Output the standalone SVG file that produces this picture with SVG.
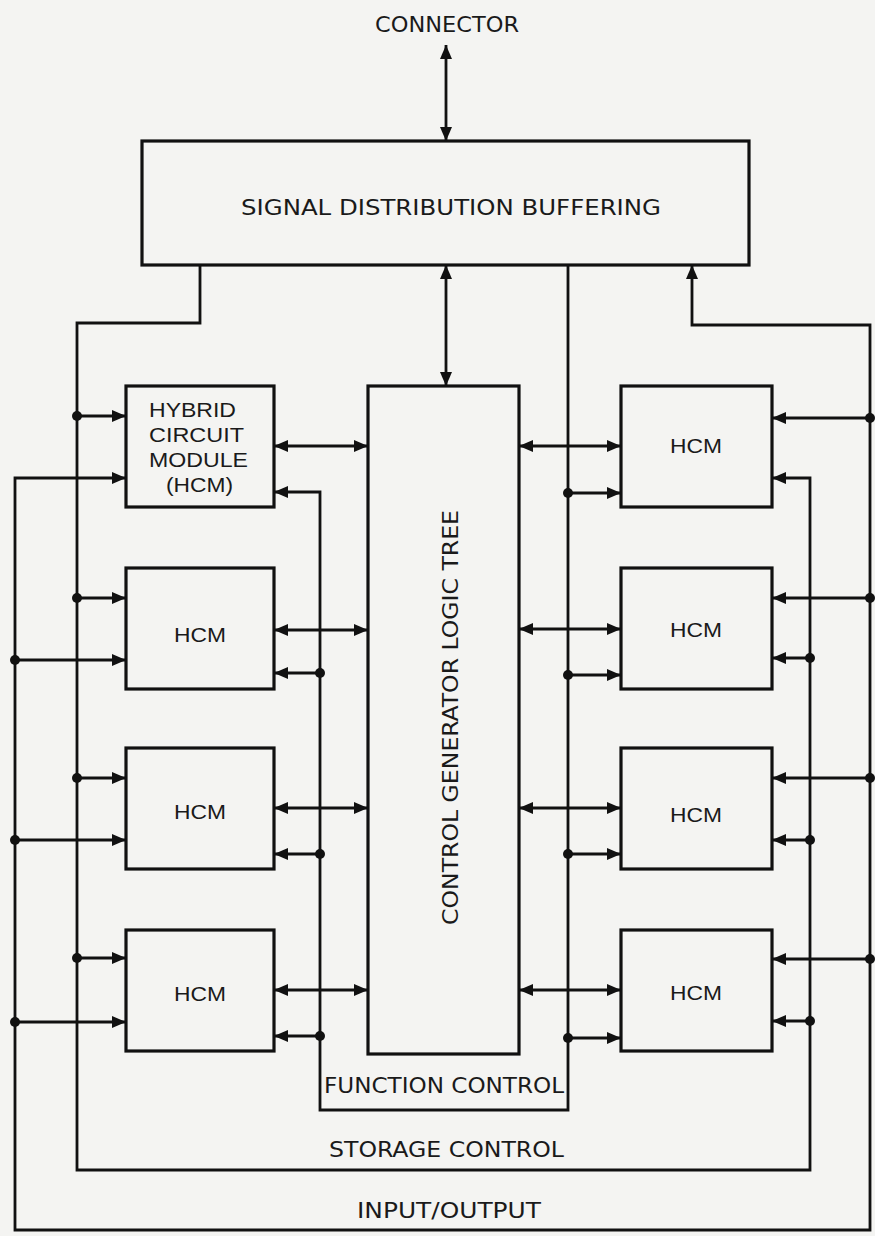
<svg xmlns="http://www.w3.org/2000/svg" width="875" height="1236" viewBox="0 0 875 1236">
<style>
.box{fill:none;stroke:#111;stroke-width:3.2}
.ln{fill:none;stroke:#111;stroke-width:2.8}
.ar{marker-end:url(#ah)}
.bi{marker-start:url(#ah);marker-end:url(#ah)}
.t{font-family:"Liberation Sans Narrow","DejaVu Sans Condensed","Liberation Sans",sans-serif;fill:#1a1a1a;font-size:22px}
.h{font-family:"Liberation Sans","DejaVu Sans",sans-serif;fill:#1a1a1a;font-size:21px}
.dot{fill:#111}
</style>
<defs>
<marker id="ah" viewBox="0 0 14 12" refX="14" refY="6" markerWidth="14" markerHeight="12" markerUnits="userSpaceOnUse" orient="auto-start-reverse">
<path d="M0,0 L14,6 L0,12 z" fill="#111"/>
</marker>
</defs>
<rect width="875" height="1236" fill="#f4f4f2"/>

<text class="t" x="375" y="32" textLength="144" lengthAdjust="spacingAndGlyphs">CONNECTOR</text>

<g id="sdb">
<rect class="box" x="142" y="141" width="607" height="124"/>
<text class="t" x="241" y="215" textLength="420" lengthAdjust="spacingAndGlyphs">SIGNAL DISTRIBUTION BUFFERING</text>
</g>

<g id="cglt">
<rect class="box" x="368" y="386" width="151" height="668"/>
<text class="t" transform="translate(458,925) rotate(-90)" x="0" y="0" font-size="24" textLength="415" lengthAdjust="spacingAndGlyphs">CONTROL GENERATOR LOGIC TREE</text>
</g>

<g id="hcm-l1">
<rect class="box" x="126" y="386" width="148" height="121"/>
<text class="h" x="149" y="417" textLength="87" lengthAdjust="spacingAndGlyphs">HYBRID</text>
<text class="h" x="149" y="442" textLength="95" lengthAdjust="spacingAndGlyphs">CIRCUIT</text>
<text class="h" x="149" y="467" textLength="99" lengthAdjust="spacingAndGlyphs">MODULE</text>
<text class="h" x="166" y="492" textLength="67" lengthAdjust="spacingAndGlyphs">(HCM)</text>
</g>
<g id="hcm-l2"><rect class="box" x="126" y="568" width="148" height="121"/><text class="h" x="174" y="642" textLength="52" lengthAdjust="spacingAndGlyphs">HCM</text></g>
<g id="hcm-l3"><rect class="box" x="126" y="748" width="148" height="121"/><text class="h" x="174" y="819" textLength="52" lengthAdjust="spacingAndGlyphs">HCM</text></g>
<g id="hcm-l4"><rect class="box" x="126" y="930" width="148" height="121"/><text class="h" x="174" y="1001" textLength="52" lengthAdjust="spacingAndGlyphs">HCM</text></g>

<g id="hcm-r1"><rect class="box" x="621" y="386" width="151" height="121"/><text class="h" x="670" y="453" textLength="52" lengthAdjust="spacingAndGlyphs">HCM</text></g>
<g id="hcm-r2"><rect class="box" x="621" y="568" width="151" height="121"/><text class="h" x="670" y="637" textLength="52" lengthAdjust="spacingAndGlyphs">HCM</text></g>
<g id="hcm-r3"><rect class="box" x="621" y="748" width="151" height="121"/><text class="h" x="670" y="822" textLength="52" lengthAdjust="spacingAndGlyphs">HCM</text></g>
<g id="hcm-r4"><rect class="box" x="621" y="930" width="151" height="121"/><text class="h" x="670" y="1000" textLength="52" lengthAdjust="spacingAndGlyphs">HCM</text></g>

<g id="connectors">
<path class="ln bi" d="M446,45 V141"/>
<path class="ln bi" d="M446,265 V386"/>
<path class="ln ar" d="M200,265 V323 H77 V1170 H810 V478 H772"/>
<path class="ln ar" d="M77,416 H126"/>
<path class="ln ar" d="M77,598 H126"/>
<path class="ln ar" d="M77,778 H126"/>
<path class="ln ar" d="M77,958 H126"/>
<path class="ln ar" d="M810,658 H772"/>
<path class="ln ar" d="M810,840 H772"/>
<path class="ln ar" d="M810,1021 H772"/>
<path class="ln bi" d="M126,478 H15 V1230 H870 V325 H692 V265"/>
<path class="ln ar" d="M15,660 H126"/>
<path class="ln ar" d="M15,840 H126"/>
<path class="ln ar" d="M15,1022 H126"/>
<path class="ln ar" d="M870,418 H772"/>
<path class="ln ar" d="M870,598 H772"/>
<path class="ln ar" d="M870,778 H772"/>
<path class="ln ar" d="M870,959 H772"/>
<path class="ln ar" d="M568,265 V1110 H320 V492 H274"/>
<path class="ln ar" d="M320,673 H274"/>
<path class="ln ar" d="M320,854 H274"/>
<path class="ln ar" d="M320,1036 H274"/>
<path class="ln ar" d="M568,493 H621"/>
<path class="ln ar" d="M568,675 H621"/>
<path class="ln ar" d="M568,854 H621"/>
<path class="ln ar" d="M568,1038 H621"/>
<path class="ln bi" d="M274,446 H368"/>
<path class="ln bi" d="M274,630 H368"/>
<path class="ln bi" d="M274,808 H368"/>
<path class="ln bi" d="M274,990 H368"/>
<path class="ln bi" d="M519,446 H621"/>
<path class="ln bi" d="M519,629 H621"/>
<path class="ln bi" d="M519,808 H621"/>
<path class="ln bi" d="M519,990 H621"/>
<circle class="dot" cx="77" cy="416" r="5"/>
<circle class="dot" cx="77" cy="598" r="5"/>
<circle class="dot" cx="77" cy="778" r="5"/>
<circle class="dot" cx="77" cy="958" r="5"/>
<circle class="dot" cx="15" cy="660" r="5"/>
<circle class="dot" cx="15" cy="840" r="5"/>
<circle class="dot" cx="15" cy="1022" r="5"/>
<circle class="dot" cx="320" cy="673" r="5"/>
<circle class="dot" cx="320" cy="854" r="5"/>
<circle class="dot" cx="320" cy="1036" r="5"/>
<circle class="dot" cx="568" cy="493" r="5"/>
<circle class="dot" cx="568" cy="675" r="5"/>
<circle class="dot" cx="568" cy="854" r="5"/>
<circle class="dot" cx="568" cy="1038" r="5"/>
<circle class="dot" cx="810" cy="658" r="5"/>
<circle class="dot" cx="810" cy="840" r="5"/>
<circle class="dot" cx="810" cy="1021" r="5"/>
<circle class="dot" cx="870" cy="418" r="5"/>
<circle class="dot" cx="870" cy="598" r="5"/>
<circle class="dot" cx="870" cy="778" r="5"/>
<circle class="dot" cx="870" cy="959" r="5"/>
</g>

<text class="t" x="324" y="1093" font-size="23" textLength="240" lengthAdjust="spacingAndGlyphs">FUNCTION CONTROL</text>
<text class="t" x="329" y="1157" font-size="23" textLength="235" lengthAdjust="spacingAndGlyphs">STORAGE CONTROL</text>
<text class="t" x="357" y="1218" font-size="23" textLength="184" lengthAdjust="spacingAndGlyphs">INPUT/OUTPUT</text>
</svg>
